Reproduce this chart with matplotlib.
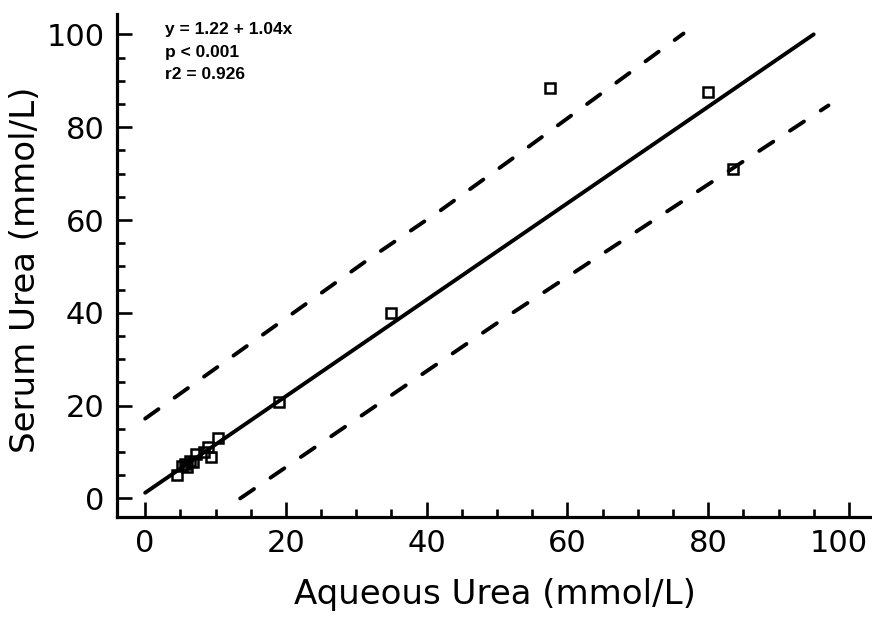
import numpy as np
import matplotlib
matplotlib.use("Agg")
import matplotlib.pyplot as plt
from matplotlib.transforms import ScaledTranslation

plt.rcParams['font.family'] = ['DejaVu Sans']

# measured points (aqueous vs serum urea, mmol/L)
aqueous = [4.5, 5.2, 5.6, 6.0, 6.3, 6.8, 7.2, 8.3, 8.9, 9.3, 10.4, 19.0, 35.0, 57.5, 80.0, 83.5]
serum = [5.0, 7.0, 7.5, 6.8, 8.0, 7.8, 9.5, 10.0, 11.0, 9.0, 13.0, 20.8, 40.0, 88.4, 87.6, 71.0]

# regression line y = 1.22 + 1.04x
intercept = 1.22
slope = 1.04
fit_x = [0, 95]

# dashed limits
upper_x = [0, 31.7, 41.9, 51.6, 76.5]
upper_y = [17.2, 51.5, 62.0, 72.6, 100.2]
lower_x = [13.5, 41.9, 50.2, 97.1]
lower_y = [0, 29.4, 38.0, 84.7]

fig = plt.figure(figsize=(8.72, 6.24), dpi=100)
ax = fig.add_axes([0.1342, 0.1715, 0.8635, 0.806])

fx = np.array(fit_x)
ax.plot(fx, intercept + slope * fx, color='black', lw=2.8, solid_capstyle='round')
ax.plot(upper_x, upper_y, color='black', lw=2.8, dashes=(4.2, 5.1), dash_capstyle='round')
ax.plot(lower_x, lower_y, color='black', lw=2.8, dashes=(4.3, 5.15), dash_capstyle='round')
ax.plot(aqueous, serum, ls='none', marker='s', ms=6.5, mfc='none', mec='black', mew=1.8)

ax.set_xlim(-4, 103)
ax.set_ylim(-4, 104.4)
ax.set_xticks(np.arange(0, 101, 20))
ax.set_yticks(np.arange(0, 101, 20))
ax.set_xticks(np.arange(0, 101, 5), minor=True)
ax.set_yticks(np.arange(0, 101, 5), minor=True)

for s in ['top', 'right']:
    ax.spines[s].set_visible(False)
for s in ['left', 'bottom']:
    ax.spines[s].set_linewidth(2.3)

ax.tick_params(which='major', direction='in', length=11, width=1.9, labelsize=22, pad=9)
ax.tick_params(which='minor', direction='in', length=6, width=1.9)

# keep the last x label inside the figure, as in the original
fig.canvas.draw()
last = ax.get_xticklabels()[-1]
last.set_transform(last.get_transform() + ScaledTranslation(-10 / 100, 0, fig.dpi_scale_trans))

ax.set_xlabel('Aqueous Urea (mmol/L)', fontsize=24.5)
ax.set_ylabel('Serum Urea (mmol/L)', fontsize=24.5)
ax.xaxis.set_label_coords(0.502, -0.122)
ax.yaxis.set_label_coords(-0.1, 0.491)

stats = ['y = 1.22 + 1.04x', 'p < 0.001', 'r2 = 0.926']
for i, line in enumerate(stats):
    ax.text(2.8, 100 - i * 4.8, line, fontsize=12.5, fontweight='bold',
            family=['Liberation Sans', 'DejaVu Sans'], va='baseline', ha='left')

fig.savefig('out.png', dpi=100)
